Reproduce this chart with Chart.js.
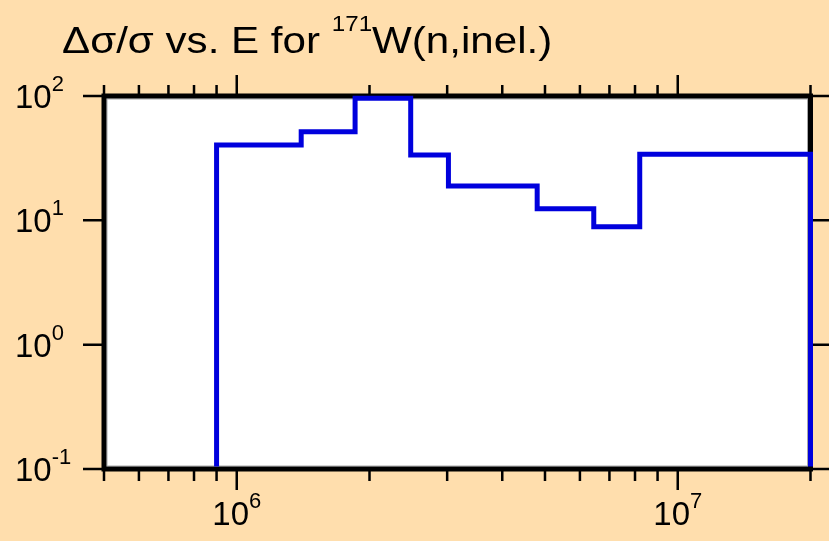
<!DOCTYPE html>
<html>
<head>
<meta charset="utf-8">
<title>W-171 inelastic uncertainty</title>
<script src="https://cdn.jsdelivr.net/npm/chart.js@4.4.0/dist/chart.umd.min.js"></script>
<style>
    body {
        margin: 0;
        background: #ffdead;
    }
    #wrap {
        width: 829px;
        height: 541px;
    }
</style>
</head>
<body>
<div id="wrap">
    <canvas id="uncChart" width="829" height="541"></canvas>
</div>

<script>
// energy bin edges (eV) and relative uncertainty (%) per bin
const binEdges = [9.0e5, 1.40e6, 1.855e6, 2.48e6, 3.02e6, 4.80e6, 6.45e6, 8.2e6, 2.0e7];
const relUncert = [40.3, 51.6, 95.8, 33.5, 18.9, 12.4, 8.9, 34.0];

const xRange = [5e5, 2e7];
const yRange = [0.1, 100];

const xMajorTicks = [1e6, 1e7];
const xTickLabels = [["10", "6"], ["10", "7"]];
const xMinorTicks = [5e5, 6e5, 7e5, 8e5, 9e5, 2e6, 3e6, 4e6, 5e6, 6e6, 7e6, 8e6, 9e6, 2e7];

const yMajorTicks = [0.1, 1, 10, 100];
const yTickLabels = [["10", "-1"], ["10", "0"], ["10", "1"], ["10", "2"]];

const titleParts = [
    { text: "\u0394\u03c3/\u03c3 vs. E for ", sup: false },
    { text: "171", sup: true },
    { text: "W(n,inel.)", sup: false }
];

const bgColor = "#ffdead";
const lineColor = "#0000dd";
const fontName = "'Liberation Sans', Arial, sans-serif";

// histogram outline: rise at first edge, steps, drop at last edge
const stepPoints = [{ x: binEdges[0], y: yRange[0] }];
relUncert.forEach((v, i) => {
    stepPoints.push({ x: binEdges[i + 1], y: v });
});
stepPoints.push({ x: binEdges[binEdges.length - 1], y: yRange[0] });

function drawPower(ctx, base, exp, x, y, size, align)
{
    // base + raised exponent, y is the base baseline
    ctx.font = size + "px " + fontName;
    const wBase = ctx.measureText(base).width;
    ctx.font = Math.round(size * 0.68) + "px " + fontName;
    const wExp = ctx.measureText(exp).width;

    let x0 = x;
    if (align === "center") {
        x0 = x - (wBase + wExp) / 2;
    }

    ctx.textAlign = "left";
    ctx.textBaseline = "alphabetic";
    ctx.font = size + "px " + fontName;
    ctx.fillText(base, x0, y);
    ctx.font = Math.round(size * 0.68) + "px " + fontName;
    ctx.fillText(exp, x0 + wBase, y - size * 0.52);
}

const framePlugin = {
    id: "frame",

    beforeDraw(chart) {
        const ctx = chart.ctx;
        const a = chart.chartArea;

        ctx.save();
        ctx.fillStyle = bgColor;
        ctx.fillRect(0, 0, chart.width, chart.height);
        ctx.fillStyle = "#ffffff";
        ctx.fillRect(a.left, a.top, a.right - a.left, a.bottom - a.top);
        ctx.restore();
    },

    beforeDatasetsDraw(chart) {
        const ctx = chart.ctx;
        const a = chart.chartArea;
        const xs = chart.scales.x;
        const ys = chart.scales.y;

        ctx.save();

        // faint inner edge
        ctx.strokeStyle = "#a8a8a8";
        ctx.lineWidth = 1;
        ctx.strokeRect(a.left + 3, a.top + 3, a.right - a.left - 6, a.bottom - a.top - 6);

        // thick frame
        ctx.strokeStyle = "#000000";
        ctx.lineWidth = 5;
        ctx.strokeRect(a.left, a.top, a.right - a.left, a.bottom - a.top);

        // x ticks, top and bottom, outward
        ctx.lineWidth = 2.5;
        ctx.beginPath();
        xMinorTicks.forEach(v => {
            const px = xs.getPixelForValue(v);
            ctx.moveTo(px, a.bottom);
            ctx.lineTo(px, a.bottom + 12);
            ctx.moveTo(px, a.top);
            ctx.lineTo(px, a.top - 11);
        });
        xMajorTicks.forEach(v => {
            const px = xs.getPixelForValue(v);
            ctx.moveTo(px, a.bottom);
            ctx.lineTo(px, a.bottom + 21);
            ctx.moveTo(px, a.top);
            ctx.lineTo(px, a.top - 21);
        });

        // y ticks, left and right, outward
        yMajorTicks.forEach(v => {
            const py = ys.getPixelForValue(v);
            ctx.moveTo(a.left, py);
            ctx.lineTo(a.left - 21, py);
            ctx.moveTo(a.right, py);
            ctx.lineTo(a.right + 19, py);
        });
        ctx.stroke();

        // tick labels
        ctx.fillStyle = "#000000";
        xMajorTicks.forEach((v, i) => {
            const px = xs.getPixelForValue(v);
            drawPower(ctx, xTickLabels[i][0], xTickLabels[i][1], px, a.bottom + 56, 33, "center");
        });
        yMajorTicks.forEach((v, i) => {
            const py = ys.getPixelForValue(v);
            drawPower(ctx, yTickLabels[i][0], yTickLabels[i][1], 15, py + 12, 33, "left");
        });

        // title with superscript mass number (wide face, so stretch a bit)
        let tx = 62;
        const ty = 53;
        titleParts.forEach(p => {
            const size = p.sup ? 22 : 36;
            const stretch = p.sup ? 1.1 : 1.17;
            ctx.font = size + "px " + fontName;
            ctx.textAlign = "left";
            ctx.textBaseline = "alphabetic";
            ctx.save();
            ctx.translate(tx, p.sup ? ty - 22 : ty);
            ctx.scale(stretch, 1);
            ctx.fillText(p.text, 0, 0);
            ctx.restore();
            tx += ctx.measureText(p.text).width * stretch;
        });

        ctx.restore();
    }
};

const chartCtx =
    document
        .getElementById("uncChart")
        .getContext("2d");

const uncChart = new Chart(chartCtx, {

    type: "line",

    data: {
        datasets: [{
            label: "dsigma/sigma",
            data: stepPoints,
            stepped: "after",
            borderColor: lineColor,
            borderWidth: 5,
            pointRadius: 0,
            fill: false,
            clip: { left: 5, right: 5, top: 5, bottom: -2.5 }
        }]
    },

    options: {
        responsive: false,
        animation: false,
        events: [],
        layout: {
            padding: { left: 104, right: 18.5, top: 96, bottom: 72 }
        },
        plugins: {
            legend: { display: false },
            tooltip: { enabled: false },
            title: { display: false }
        },
        scales: {
            x: {
                type: "logarithmic",
                display: false,
                min: xRange[0],
                max: xRange[1]
            },
            y: {
                type: "logarithmic",
                display: false,
                min: yRange[0],
                max: yRange[1]
            }
        }
    },

    plugins: [framePlugin]
});
</script>
</body>
</html>
